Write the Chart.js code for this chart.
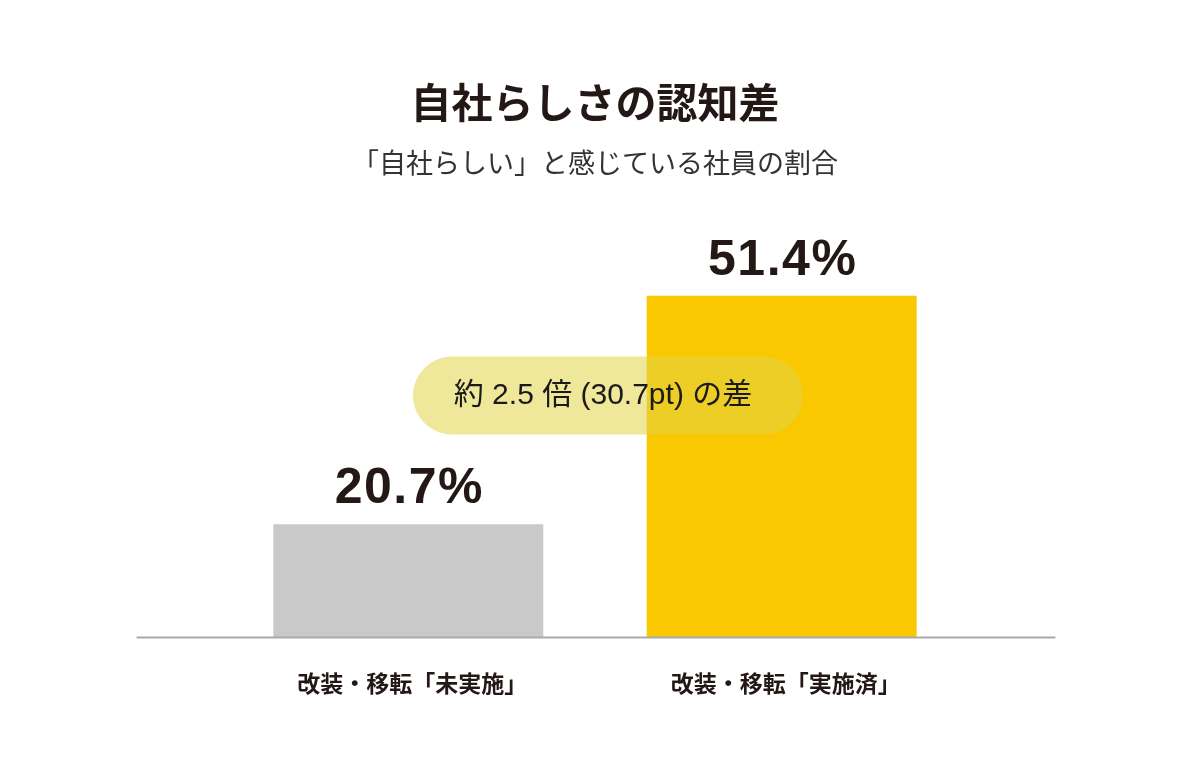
<!DOCTYPE html>
<html lang="ja">
<head>
<meta charset="utf-8">
<title>自社らしさの認知差</title>
<script src="https://cdn.jsdelivr.net/npm/chart.js@4.4.1/dist/chart.umd.min.js"></script>
<style>
  body { margin: 0; background: #fff; }
  #wrap { width: 1200px; height: 773px; }
</style>
</head>
<body>
<div id="wrap"><canvas id="chart" width="1200" height="773"></canvas></div>
<script>
// データ
const categories = ['改装・移転「未実施」', '改装・移転「実施済」'];
const values = [20.7, 51.4];
const valueLabels = ['20.7%', '51.4%'];
const barColors = ['#c8c9c8', '#f9c800'];
const titleText = '自社らしさの認知差';
const subtitleText = '「自社らしい」と感じている社員の割合';
const diffText = '約 2.5 倍 (30.7pt) の差';

const INK = '#231815';
const JP = '"Noto Sans CJK JP", "Noto Sans", sans-serif';
const NUM = '"Liberation Sans", Arial, "Noto Sans CJK JP", sans-serif';

// 値ラベル・差の吹き出し・ベースライン
const extras = {
    id: 'extras',
    afterDatasetsDraw(chart) {
        const ctx = chart.ctx;
        const area = chart.chartArea;
        const meta = chart.getDatasetMeta(0);
        const y = chart.scales.y;

        // ベースライン
        ctx.save();
        ctx.strokeStyle = '#aaaaaa';
        ctx.lineWidth = 2;
        ctx.beginPath();
        ctx.moveTo(area.left - 85, area.bottom);
        ctx.lineTo(area.right + 87, area.bottom);
        ctx.stroke();

        // 値ラベル
        ctx.fillStyle = INK;
        ctx.font = 'bold 50px ' + NUM;
        ctx.letterSpacing = '1.5px';
        ctx.textAlign = 'center';
        ctx.textBaseline = 'alphabetic';
        meta.data.forEach((bar, i) => {
            ctx.fillText(valueLabels[i], bar.x + 1, bar.y - 21);
        });
        ctx.letterSpacing = '0px';

        // 差の吹き出し
        const cx = (meta.data[0].x + meta.data[1].x) / 2 + 13;
        const cy = y.getPixelForValue(38);
        const w = 390, h = 78, r = h / 2;
        ctx.fillStyle = 'rgba(225, 212, 70, 0.55)';
        ctx.beginPath();
        ctx.moveTo(cx - w / 2 + r, cy - r);
        ctx.lineTo(cx + w / 2 - r, cy - r);
        ctx.arc(cx + w / 2 - r, cy, r, -Math.PI / 2, Math.PI / 2);
        ctx.lineTo(cx - w / 2 + r, cy + r);
        ctx.arc(cx - w / 2 + r, cy, r, Math.PI / 2, Math.PI * 1.5);
        ctx.closePath();
        ctx.fill();

        ctx.fillStyle = '#1a1a1a';
        ctx.font = '30px ' + NUM;
        ctx.textBaseline = 'middle';
        ctx.fillText(diffText, cx - 5, cy);
        ctx.restore();
    }
};

new Chart(document.getElementById('chart'), {
    type: 'bar',
    data: {
        labels: categories,
        datasets: [{
            data: values,
            backgroundColor: barColors,
            borderWidth: 0,
            barPercentage: 0.723,
            categoryPercentage: 1
        }]
    },
    options: {
        responsive: false,
        animation: false,
        layout: { padding: { left: 221.6, right: 231.6, top: 0, bottom: 43 } },
        plugins: {
            legend: { display: false },
            tooltip: { enabled: false },
            title: {
                display: true,
                text: titleText,
                color: INK,
                font: { family: JP, size: 41, weight: 'bold', lineHeight: 1.2 },
                padding: { top: 78, bottom: 0 }
            },
            subtitle: {
                display: true,
                text: subtitleText,
                color: '#333333',
                font: { family: JP, size: 27, weight: 'normal', lineHeight: 1.2 },
                padding: { top: 19, bottom: 16 }
            }
        },
        scales: {
            x: {
                grid: { display: false, drawTicks: false },
                border: { display: false },
                ticks: {
                    color: INK,
                    padding: 32.5,
                    labelOffset: 4,
                    font: { family: JP, size: 23, weight: 'bold', lineHeight: 1.2 }
                }
            },
            y: {
                display: false,
                min: 5.5,
                max: 65
            }
        }
    },
    plugins: [extras]
});
</script>
</body>
</html>
